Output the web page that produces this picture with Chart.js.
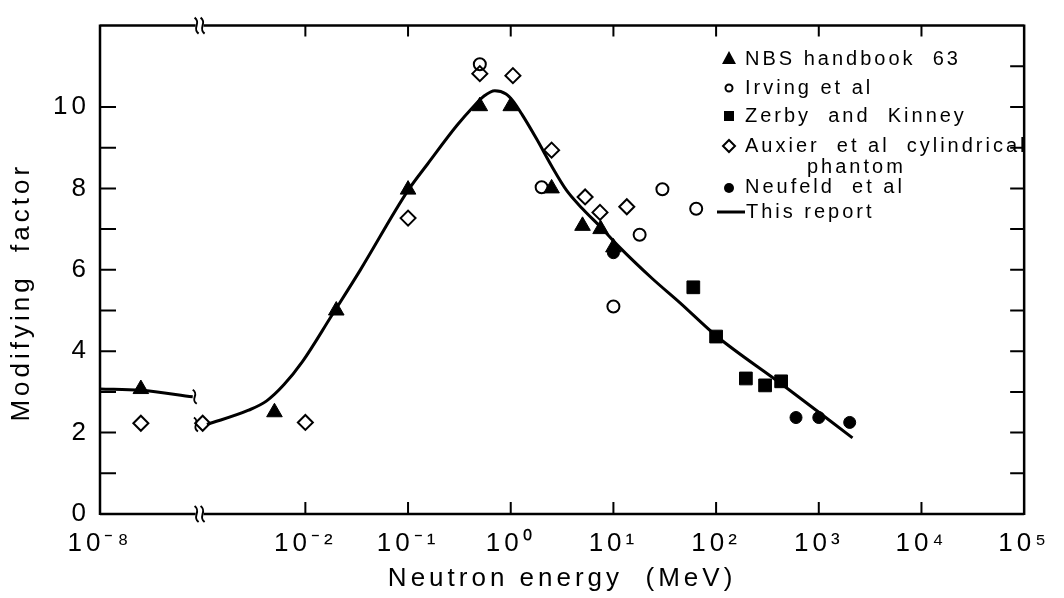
<!DOCTYPE html>
<html>
<head>
<meta charset="utf-8">
<title>Modifying factor vs neutron energy</title>
<script src="https://cdn.jsdelivr.net/npm/chart.js"></script>
<style>
  html, body { margin: 0; padding: 0; background: #fff; }
  #wrap { width: 1064px; height: 598px; }
</style>
</head>
<body>
<div id="wrap"><canvas id="myChart"></canvas></div>
<script>
// energies in MeV, factors
const nbsEnergy = [2.5e-8, 5e-3, 0.02, 0.1, 0.5, 1, 2.5, 5, 7.5, 10];
const nbsFactor = [3.07, 2.5, 5.0, 7.97, 10.02, 10.02, 8.0, 7.08, 7.0, 6.55];

const irvingEnergy = [0.5, 2, 10, 18, 30, 64];
const irvingFactor = [11.05, 8.03, 5.1, 6.86, 7.98, 7.5];

const zerbyEnergy = [60, 100, 195, 300, 430];
const zerbyFactor = [5.57, 4.36, 3.33, 3.16, 3.26];

const auxierEnergy = [2.5e-8, 1e-3, 0.01, 0.1, 0.5, 1.05, 2.5, 5.3, 7.4, 13.5];
const auxierFactor = [2.23, 2.23, 2.25, 7.27, 10.82, 10.77, 8.94, 7.79, 7.41, 7.55];

const neufeldEnergy = [10, 600, 1000, 2000];
const neufeldFactor = [6.42, 2.37, 2.37, 2.25];

// "This report" curve, thermal piece and fast piece
const curveLowEnergy = [1e-8, 2.5e-8, 8e-8];
const curveLowFactor = [3.07, 3.04, 2.88];
const curveEnergy = [1.1e-3, 2.8e-3, 4.2e-3, 6.2e-3, 9.4e-3, 0.018, 0.034, 0.1, 0.155, 0.3, 0.43, 0.55, 0.7, 0.9, 1.05, 1.3, 1.8, 2.5, 3.5, 5, 7.5, 11, 24, 44, 100, 430, 2130];
const curveFactor = [2.2, 2.55, 2.78, 3.18, 3.75, 4.87, 5.98, 7.95, 8.6, 9.55, 10.0, 10.27, 10.4, 10.32, 10.15, 9.8, 9.2, 8.55, 7.95, 7.5, 7.05, 6.6, 5.78, 5.2, 4.38, 3.2, 1.87];

// x ticks: axis position (decades) and the exponent printed there
const xTickPos = [-4, -2, -1, 0, 1, 2, 3, 4, 5];
const xTickExp = [-8, -2, -1, 0, 1, 2, 3, 4, 5];
const yTickMax = 10;

// the axis is broken: everything below 1e-6 MeV is moved 4 decades right
const BREAK_SHIFT = 4;
const BREAK_POS = -3.03;

function xPos(e) {
    let l = Math.log10(e);
    return l < -6 ? l + BREAK_SHIFT : l;
}

function toPoints(es, fs) {
    return es.map((e, i) => ({ x: xPos(e), y: fs[i] }));
}

const supMap = { '-': '\u207B', '0': '\u2070', '1': '\u00B9', '2': '\u00B2', '3': '\u00B3',
    '4': '\u2074', '5': '\u2075', '6': '\u2076', '7': '\u2077', '8': '\u2078', '9': '\u2079' };
function sup(n) {
    return String(n).split('').map(c => supMap[c]).join('');
}

let curvePts = toPoints(curveLowEnergy, curveLowFactor)
    .concat([{ x: BREAK_POS, y: null }])
    .concat(toPoints(curveEnergy, curveFactor));

const FONT = 'Liberation Sans, Arial, sans-serif';

function squiggle(ctx, x, y, h) {
    ctx.beginPath();
    ctx.moveTo(x - 2, y - h);
    ctx.bezierCurveTo(x + 5, y - h / 3, x - 5, y + h / 3, x + 2, y + h);
    ctx.stroke();
}

// frame with inward ticks, axis breaks and the legend inside the plot
const frame = {
    id: 'frame',
    beforeLayout(chart) { chart.ctx.letterSpacing = '4px'; },
    beforeDraw(chart) { chart.ctx.letterSpacing = '4px'; },
    afterDraw(chart) {
        const ctx = chart.ctx;
        const a = chart.chartArea;
        const xs = chart.scales.x;
        const ys = chart.scales.y;
        ctx.save();
        ctx.strokeStyle = '#000';
        ctx.fillStyle = '#000';
        ctx.lineCap = 'butt';

        let bx = xs.getPixelForValue(BREAK_POS);
        ctx.lineWidth = 2.5;
        ctx.beginPath();
        ctx.moveTo(a.left, a.top - 1); ctx.lineTo(a.left, a.bottom + 1);
        ctx.moveTo(a.right, a.top - 1); ctx.lineTo(a.right, a.bottom + 1);
        ctx.moveTo(a.left, a.top); ctx.lineTo(bx - 4, a.top);
        ctx.moveTo(bx + 4, a.top); ctx.lineTo(a.right, a.top);
        ctx.moveTo(a.left, a.bottom); ctx.lineTo(bx - 4, a.bottom);
        ctx.moveTo(bx + 4, a.bottom); ctx.lineTo(a.right, a.bottom);
        ctx.stroke();

        ctx.lineWidth = 2;
        squiggle(ctx, bx - 3, a.top, 8);
        squiggle(ctx, bx + 3, a.top, 8);
        squiggle(ctx, bx - 3, a.bottom, 8);
        squiggle(ctx, bx + 3, a.bottom, 8);

        // breaks on the curve ends
        let lowEnd = curvePts[curveLowEnergy.length - 1];
        squiggle(ctx, xs.getPixelForValue(lowEnd.x) + 2, ys.getPixelForValue(lowEnd.y), 7);
        let hiStart = curvePts[curveLowEnergy.length + 1];
        squiggle(ctx, xs.getPixelForValue(hiStart.x) - 11, ys.getPixelForValue(hiStart.y), 7);

        ctx.lineWidth = 2;
        ctx.beginPath();
        for (let v = 1; v <= 10; v++) {
            let y = ys.getPixelForValue(v);
            ctx.moveTo(a.left, y); ctx.lineTo(a.left + 16, y);
        }
        for (let v = 1; v <= 11; v++) {
            let y = ys.getPixelForValue(v);
            ctx.moveTo(a.right, y); ctx.lineTo(a.right - 14, y);
        }
        for (let u = -2; u <= 4; u++) {
            let x = xs.getPixelForValue(u);
            ctx.moveTo(x, a.bottom); ctx.lineTo(x, a.bottom - 12);
            ctx.moveTo(x, a.top); ctx.lineTo(x, a.top + 11);
        }
        ctx.stroke();

        // legend
        ctx.letterSpacing = '3px';
        ctx.font = '20px ' + FONT;
        ctx.textBaseline = 'middle';
        ctx.textAlign = 'left';
        const mx = 729, tx = 745;
        const rows = [
            { shape: 'triangle', y: 59, text: 'NBS handbook  63' },
            { shape: 'ring', y: 88, text: 'Irving et al' },
            { shape: 'square', y: 116, text: 'Zerby  and  Kinney' },
            { shape: 'diamond', y: 146, text: 'Auxier  et al  cylindrical' },
            { shape: 'dot', y: 187, text: 'Neufeld  et al' },
            { shape: 'line', y: 212, text: 'This report' }
        ];
        rows.forEach(r => {
            ctx.lineWidth = 2;
            ctx.beginPath();
            if (r.shape === 'triangle') {
                ctx.moveTo(mx, r.y - 8); ctx.lineTo(mx + 7, r.y + 5); ctx.lineTo(mx - 7, r.y + 5);
                ctx.closePath(); ctx.fill();
            } else if (r.shape === 'ring') {
                ctx.arc(mx, r.y, 3.5, 0, Math.PI * 2); ctx.stroke();
            } else if (r.shape === 'square') {
                ctx.rect(mx - 5, r.y - 5, 10, 10); ctx.fill();
            } else if (r.shape === 'diamond') {
                ctx.moveTo(mx, r.y - 6); ctx.lineTo(mx + 6, r.y); ctx.lineTo(mx, r.y + 6); ctx.lineTo(mx - 6, r.y);
                ctx.closePath(); ctx.stroke();
            } else if (r.shape === 'dot') {
                ctx.arc(mx, r.y + 1, 5, 0, Math.PI * 2); ctx.fill();
            } else {
                ctx.lineWidth = 3;
                ctx.moveTo(717, r.y); ctx.lineTo(tx, r.y); ctx.stroke();
            }
            ctx.fillText(r.text, r.shape === 'line' ? tx + 1 : tx, r.y);
        });
        ctx.fillText('phantom', 807, 167);
        ctx.restore();
    }
};

const scatterBase = {
    type: 'scatter',
    borderColor: '#000',
    pointBorderColor: '#000',
    showLine: false
};

const chart = new Chart('myChart', {
    data: {
        datasets: [
            {
                type: 'line',
                label: 'This report',
                data: curvePts,
                borderColor: '#000',
                borderWidth: 3,
                pointRadius: 0,
                fill: false,
                spanGaps: false,
                cubicInterpolationMode: 'monotone'
            },
            Object.assign({}, scatterBase, {
                label: 'NBS handbook 63',
                data: toPoints(nbsEnergy, nbsFactor),
                pointStyle: 'triangle', pointRadius: 9,
                pointBackgroundColor: '#000', pointBorderWidth: 1
            }),
            Object.assign({}, scatterBase, {
                label: 'Irving et al',
                data: toPoints(irvingEnergy, irvingFactor),
                pointStyle: 'circle', pointRadius: 6,
                pointBackgroundColor: 'rgba(0,0,0,0)', pointBorderWidth: 2
            }),
            Object.assign({}, scatterBase, {
                label: 'Zerby and Kinney',
                data: toPoints(zerbyEnergy, zerbyFactor),
                pointStyle: 'rect', pointRadius: 9,
                pointBackgroundColor: '#000', pointBorderWidth: 1
            }),
            Object.assign({}, scatterBase, {
                label: 'Auxier et al cylindrical phantom',
                data: toPoints(auxierEnergy, auxierFactor),
                pointStyle: 'rectRot', pointRadius: 7.5,
                pointBackgroundColor: 'rgba(0,0,0,0)', pointBorderWidth: 2
            }),
            Object.assign({}, scatterBase, {
                label: 'Neufeld et al',
                data: toPoints(neufeldEnergy, neufeldFactor),
                pointStyle: 'circle', pointRadius: 6,
                pointBackgroundColor: '#000', pointBorderWidth: 1
            })
        ]
    },
    options: {
        responsive: true,
        maintainAspectRatio: false,
        animation: false,
        events: [],
        layout: { padding: { top: 13, right: 39, left: 0, bottom: 0 } },
        plugins: {
            legend: { display: false },
            tooltip: { enabled: false }
        },
        scales: {
            x: {
                type: 'linear',
                min: -4,
                max: 5,
                grid: { display: false, drawTicks: false },
                border: { display: false },
                afterBuildTicks: function (scale) {
                    scale.ticks = xTickPos.map(v => ({ value: v }));
                },
                afterFit: function (scale) { scale.height = 84; },
                ticks: {
                    autoSkip: false,
                    maxRotation: 0,
                    padding: 14,
                    color: '#000',
                    font: { family: FONT, size: 26 },
                    callback: function (value) {
                        let i = xTickPos.indexOf(value);
                        return i < 0 ? '' : '10' + sup(xTickExp[i]);
                    }
                },
                title: {
                    display: true,
                    text: 'Neutron energy  (MeV)',
                    color: '#000',
                    font: { family: FONT, size: 26 },
                    padding: { top: 0, bottom: 4 }
                }
            },
            y: {
                min: 0,
                max: 12,
                grid: { display: false, drawTicks: false },
                border: { display: false },
                afterFit: function (scale) { scale.width = 100; },
                ticks: {
                    stepSize: 2,
                    padding: 10,
                    color: '#000',
                    font: { family: FONT, size: 26 },
                    callback: function (value) {
                        return value <= yTickMax ? value : '';
                    }
                },
                title: {
                    display: true,
                    text: 'Modifying  factor    ',
                    color: '#000',
                    font: { family: FONT, size: 26 },
                    padding: { top: 6, bottom: 0 }
                }
            }
        }
    },
    plugins: [frame]
});
</script>
</body>
</html>
